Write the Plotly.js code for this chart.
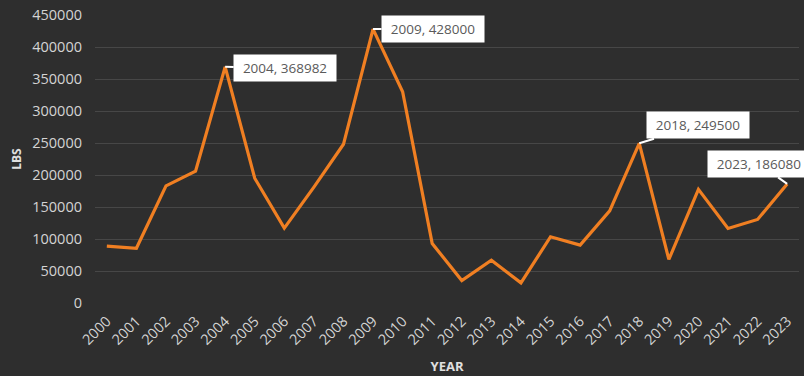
<!DOCTYPE html>
<html>
<head>
<meta charset="utf-8">
<script src="https://cdn.plot.ly/plotly-3.0.1.min.js"></script>
<style>html,body{margin:0;padding:0;background:#2e2e2e;}#chart{width:804px;height:376px;}</style>
</head>
<body>
<div id="chart"></div>
<script>
const years = [2000,2001,2002,2003,2004,2005,2006,2007,2008,2009,2010,2011,2012,2013,2014,2015,2016,2017,2018,2019,2020,2021,2022,2023];
const lbs = [89000,85500,183000,206000,368982,195000,117000,181000,248000,428000,330000,93000,35000,67000,31500,103500,90500,144000,249500,68000,177500,116500,130500,186080];
const labelYears = [2004,2009,2018,2023];
const labelOffsets = [[60,1],[60,0],[59,-18],[-28,-20]];
const yTicks = [0,50000,100000,150000,200000,250000,300000,350000,400000,450000];

const annotations = labelYears.map((yr, i) => {
  const v = lbs[years.indexOf(yr)];
  return {
    x: yr, y: v, xref: 'x', yref: 'y',
    text: yr + ', ' + v,
    showarrow: true, arrowhead: 0, arrowwidth: 2, arrowcolor: '#ffffff',
    ax: labelOffsets[i][0], ay: labelOffsets[i][1],
    bgcolor: '#ffffff', borderpad: 4, width: 94, height: 18,
    font: {family: 'Open Sans, sans-serif', size: 13.5, color: '#5a5a5a'}
  };
});

Plotly.newPlot('chart', [{
  x: years, y: lbs, type: 'scatter', mode: 'lines',
  line: {color: '#f07f22', width: 3.2},
  hoverinfo: 'skip'
}], {
  width: 804, height: 376,
  paper_bgcolor: '#2e2e2e', plot_bgcolor: '#2e2e2e',
  margin: {l: 95, r: 5, t: 15, b: 73},
  showlegend: false,
  font: {family: 'Open Sans, sans-serif', color: '#d4d4d4'},
  xaxis: {
    range: [1999.6, 2023.4], tickmode: 'array', tickvals: years, ticktext: years.map(String),
    tickangle: -45, showgrid: false, zeroline: false, showline: false,
    tickfont: {size: 14.5, color: '#d4d4d4'}, ticks: '', ticklabelstandoff: 6,
    title: {text: 'YEAR', font: {size: 13, color: '#e0e0e0', weight: 'bold'}, standoff: 14}
  },
  yaxis: {
    range: [0, 450000], tickmode: 'array', tickvals: yTicks, ticktext: yTicks.map(String),
    showgrid: true, gridcolor: 'rgba(255,255,255,0.12)', gridwidth: 1,
    zeroline: false, showline: false, ticks: '', ticklabelstandoff: 12,
    tickfont: {size: 14.5, color: '#d4d4d4'},
    title: {text: 'LBS', font: {size: 12, color: '#e0e0e0', weight: 'bold'}, standoff: 8}
  },
  annotations: annotations
}, {displayModeBar: false, staticPlot: true});
</script>
</body>
</html>
